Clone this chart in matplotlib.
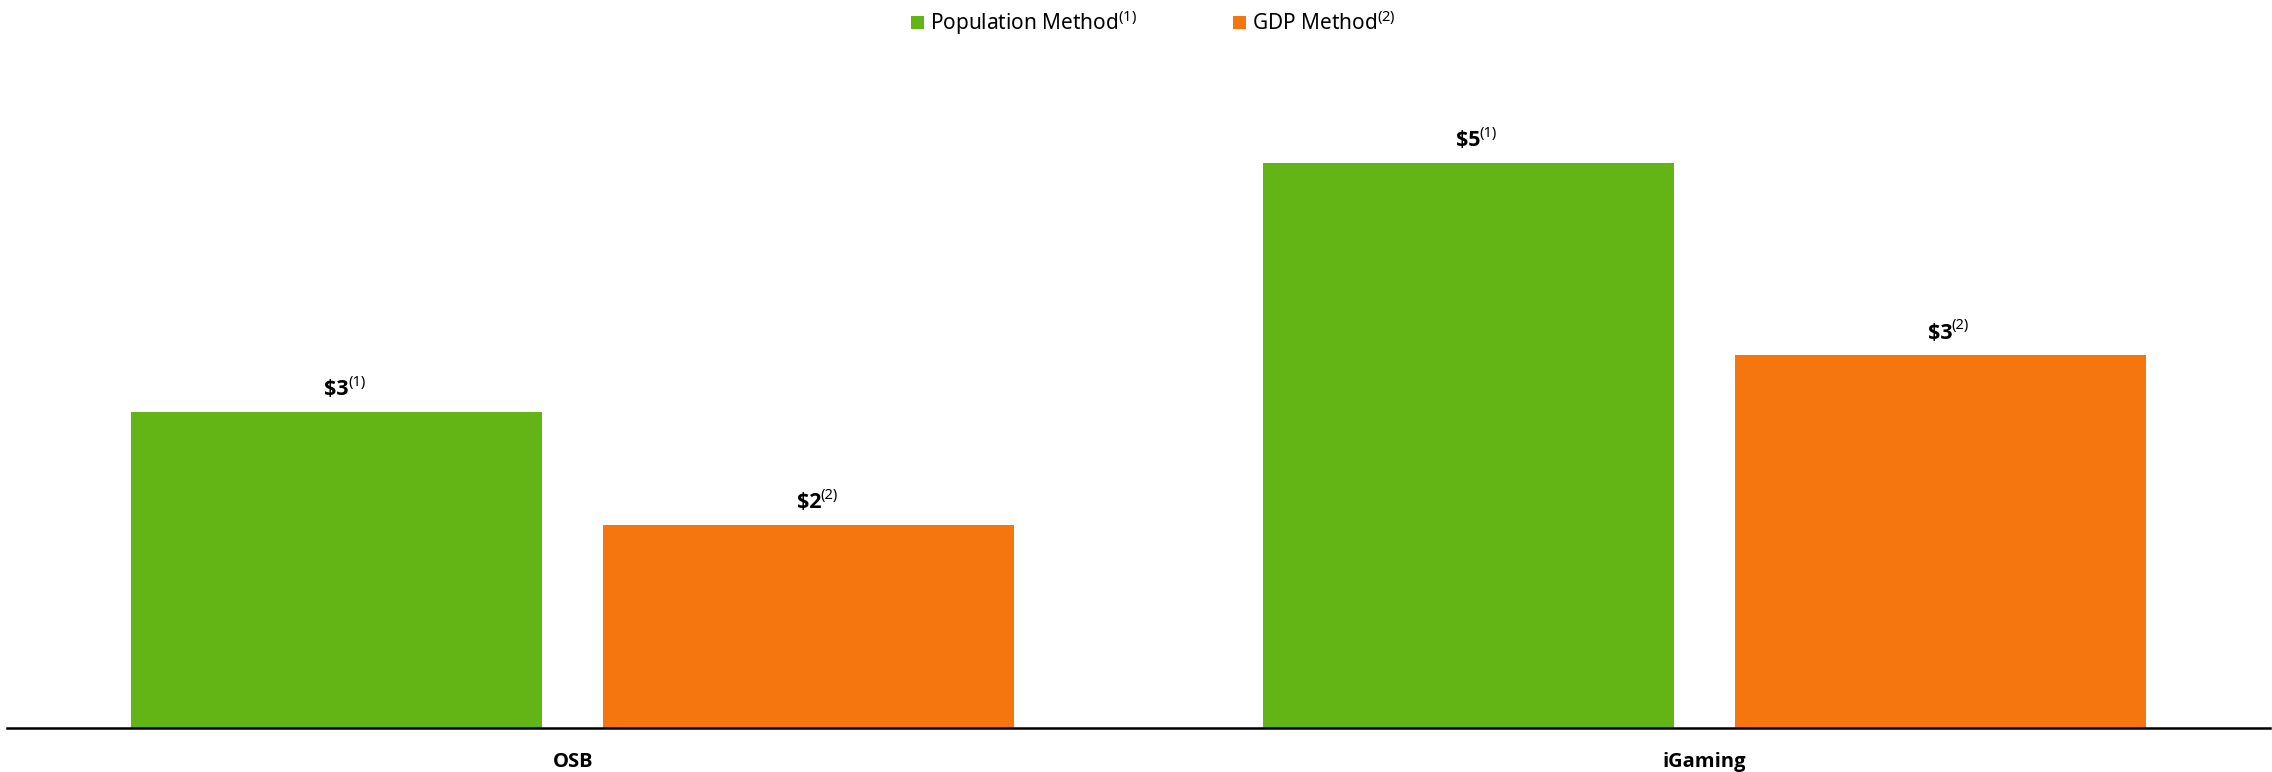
import matplotlib
matplotlib.use("Agg")
import matplotlib.pyplot as plt
import numpy as np

plt.rcParams['font.family'] = ['Noto Sans', 'DejaVu Sans']
plt.rcParams['mathtext.fontset'] = 'custom'
plt.rcParams['mathtext.rm'] = 'Noto Sans'

BOLD_FAMILY = ['Open Sans', 'DejaVu Sans']

# Market size estimates by method ($bn)
categories = ["OSB", "iGaming"]
population_values = [2.8, 5.0]
gdp_values = [1.8, 3.3]
population_notes = ["(1)", "(1)"]
gdp_notes = ["(2)", "(2)"]
series_names = ["Population Method", "GDP Method"]
series_notes = ["(1)", "(2)"]

GREEN = "#62B515"
ORANGE = "#F5760F"

fig = plt.figure(figsize=(22.72, 7.72), dpi=100)
ax = fig.add_axes([0.0031, 0.057, 0.9960, 0.878])

x = np.arange(len(categories))
width = 0.363
offset = 0.2086

bars_pop = ax.bar(x - offset, population_values, width, color=GREEN,
                  label=f"{series_names[0]}$^{{{series_notes[0]}}}$")
bars_gdp = ax.bar(x + offset, gdp_values, width, color=ORANGE,
                  label=f"{series_names[1]}$^{{{series_notes[1]}}}$")


def value_labels(bars, values, notes):
    for bar, v, note in zip(bars, values, notes):
        cx = bar.get_x() + bar.get_width() / 2
        main = ax.annotate(f"${v:.0f}", xy=(cx, v), xytext=(0, 12),
                           textcoords="offset points", ha="center",
                           va="baseline", fontsize=15.5, fontweight="bold",
                           family=BOLD_FAMILY, color="black")
        ax.annotate(note, xy=(1.0, 0.85), xycoords=main, xytext=(-0.5, 0),
                    textcoords="offset points", ha="left", va="center",
                    fontsize=10.5, color="black")


value_labels(bars_pop, population_values, population_notes)
value_labels(bars_gdp, gdp_values, gdp_notes)

ax.set_xlim(-0.5, 1.5)
ax.set_ylim(0, 6)
ax.set_xticks(x)
ax.set_xticklabels(categories, fontsize=14.5, fontweight="bold",
                   family=BOLD_FAMILY)
ax.tick_params(axis="x", length=0, pad=17)
ax.set_yticks([])
for side in ("top", "right", "left"):
    ax.spines[side].set_visible(False)
ax.spines["bottom"].set_linewidth(1.8)
ax.spines["bottom"].set_color("black")

fig.legend(loc="center", bbox_to_anchor=(0.5077, 0.971), ncol=2,
           frameon=False, fontsize=15, handlelength=0.62, handleheight=0.62,
           handletextpad=0.3, columnspacing=4.6)

fig.savefig("out.png", dpi=100)
